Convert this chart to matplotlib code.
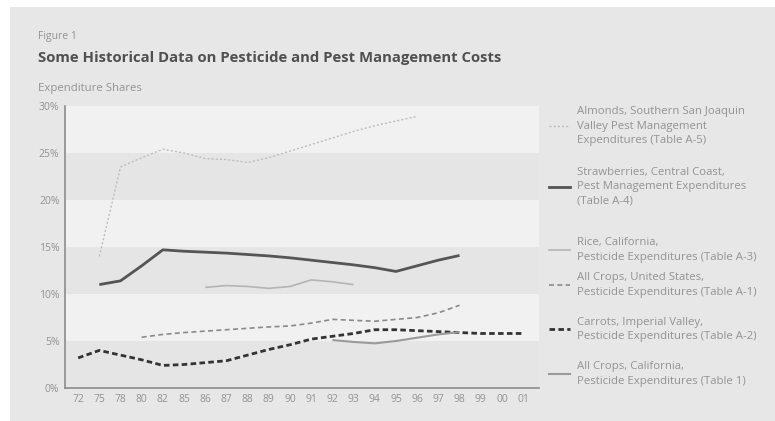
import numpy as np
import matplotlib
matplotlib.use("Agg")
import matplotlib.pyplot as plt
from matplotlib.lines import Line2D
from matplotlib.patches import Rectangle

plt.rcParams['font.family'] = ['Open Sans', 'DejaVu Sans']

nan = np.nan
years = ['72', '75', '78', '80', '82', '85', '86', '87', '88', '89', '90',
         '91', '92', '93', '94', '95', '96', '97', '98', '99', '00', '01']

almonds = [nan, 14.0, 23.5, 24.5, 25.4, 25.0, 24.4, 24.3, 24.0, 24.5, 25.2,
           25.9, 26.6, 27.3, 27.9, 28.4, 28.9, nan, nan, nan, nan, nan]
strawberries = [nan, 11.0, 11.4, 13.0, 14.7, 14.55, 14.45, 14.35, 14.2, 14.05, 13.85,
                13.6, 13.35, 13.1, 12.8, 12.4, 13.0, 13.6, 14.1, nan, nan, nan]
rice = [nan, nan, nan, nan, nan, nan, 10.7, 10.9, 10.8, 10.6, 10.8,
        11.5, 11.3, 11.0, nan, nan, nan, nan, nan, nan, nan, nan]
us_all = [nan, nan, nan, 5.4, 5.7, 5.9, 6.05, 6.2, 6.35, 6.5, 6.6,
          6.9, 7.3, 7.2, 7.1, 7.3, 7.5, 8.0, 8.8, nan, nan, nan]
carrots = [3.2, 4.0, 3.5, 3.0, 2.4, 2.5, 2.7, 2.9, 3.5, 4.1, 4.6,
           5.2, 5.5, 5.8, 6.2, 6.2, 6.1, 6.0, 5.9, 5.8, 5.8, 5.8]
ca_all = [nan, nan, nan, nan, nan, nan, nan, nan, nan, nan, nan,
          nan, 5.1, 4.9, 4.75, 5.0, 5.35, 5.7, 5.95, nan, nan, nan]

labels = ['Almonds, Southern San Joaquin\nValley Pest Management\nExpenditures (Table A-5)',
          'Strawberries, Central Coast,\nPest Management Expenditures\n(Table A-4)',
          'Rice, California,\nPesticide Expenditures (Table A-3)',
          'All Crops, United States,\nPesticide Expenditures (Table A-1)',
          'Carrots, Imperial Valley,\nPesticide Expenditures (Table A-2)',
          'All Crops, California,\nPesticide Expenditures (Table 1)']
series = [almonds, strawberries, rice, us_all, carrots, ca_all]
styles = [dict(color='#bdbdbd', lw=1.0, ls=(0, (1.5, 1.5))),
          dict(color='#555555', lw=2.0, ls='-'),
          dict(color='#b4b4b4', lw=1.2, ls='-'),
          dict(color='#8a8a8a', lw=1.2, ls=(0, (3, 2))),
          dict(color='#333333', lw=2.0, ls=(0, (2, 1.2))),
          dict(color='#9a9a9a', lw=1.5, ls='-')]
legend_y = [0.700, 0.556, 0.406, 0.323, 0.218, 0.112]

fig = plt.figure(figsize=(7.75, 4.21), dpi=100)
fig.patch.set_facecolor('white')
fig.patches.append(Rectangle((10/775, 0), 1, 1 - 7/421, transform=fig.transFigure,
                             facecolor='#e7e7e7', edgecolor='none', zorder=-10))

ax = fig.add_axes([65/775, 33/421, 474/775, 282/421])
ax.set_facecolor('#e5e5e5')
for lo in [5, 15, 25]:
    ax.axhspan(lo, lo + 5, color='#f1f1f1', lw=0, zorder=0)

x = np.arange(len(years))
for s, st in zip(series, styles):
    ax.plot(x, s, zorder=3, solid_capstyle='butt', **st)

ax.set_xlim(-0.62, 21.75)
ax.set_ylim(0, 30)
ax.set_xticks(x)
ax.set_xticklabels(years)
ax.set_yticks([0, 5, 10, 15, 20, 25, 30])
ax.set_yticklabels(['0%', '5%', '10%', '15%', '20%', '25%', '30%'])
ax.tick_params(length=0, labelsize=7.5, colors='#939393', pad=4)
for sp in ['top', 'right']:
    ax.spines[sp].set_visible(False)
for sp in ['left', 'bottom']:
    ax.spines[sp].set_color('#8c8c8c')
    ax.spines[sp].set_linewidth(1.2)

# legend, drawn by hand at the right
for lab, st, ly in zip(labels, styles, legend_y):
    fig.add_artist(Line2D([549/775, 570/775], [ly, ly], transform=fig.transFigure, **st))
    fig.text(577/775, ly, lab, fontsize=8.2, color='#939393', va='center', ha='left',
             linespacing=1.42)

fig.text(38/775, 1 - 36/421, 'Figure 1', fontsize=7.5, color='#939393', va='center')
fig.text(38/775, 1 - 58/421, 'Some Historical Data on Pesticide and Pest Management Costs',
         fontsize=10.7, fontweight='bold', color='#505050', va='center')
fig.text(38/775, 1 - 88/421, 'Expenditure Shares', fontsize=8.2, color='#939393', va='center')

fig.savefig('out.png', dpi=100)
